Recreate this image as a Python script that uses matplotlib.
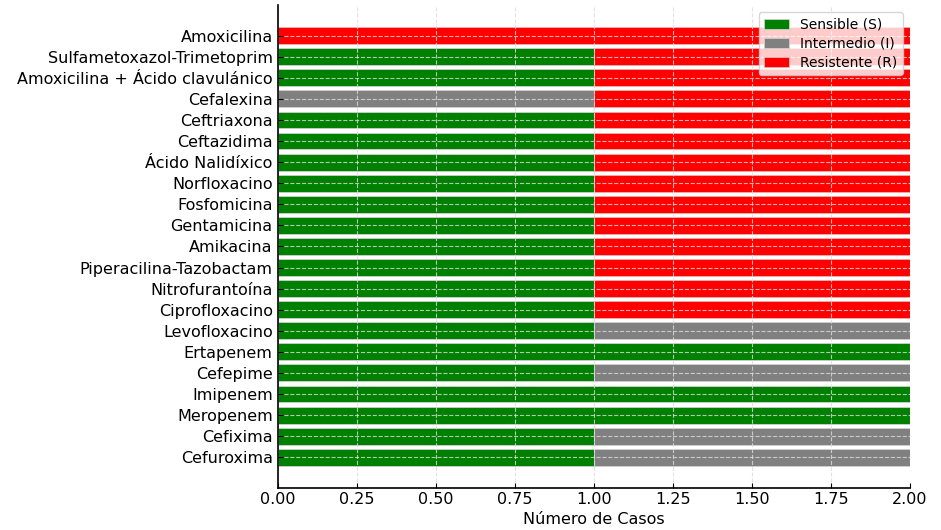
import numpy as np
import matplotlib
matplotlib.use("Agg")
import matplotlib.pyplot as plt

plt.rcParams["font.family"] = ["DejaVu Sans"]

antibioticos = [
    "Amoxicilina",
    "Sulfametoxazol-Trimetoprim",
    "Amoxicilina + Ácido clavulánico",
    "Cefalexina",
    "Ceftriaxona",
    "Ceftazidima",
    "Ácido Nalidíxico",
    "Norfloxacino",
    "Fosfomicina",
    "Gentamicina",
    "Amikacina",
    "Piperacilina-Tazobactam",
    "Nitrofurantoína",
    "Ciprofloxacino",
    "Levofloxacino",
    "Ertapenem",
    "Cefepime",
    "Imipenem",
    "Meropenem",
    "Cefixima",
    "Cefuroxima",
]
sensible   = [0, 1, 1, 0, 1, 1, 1, 1, 1, 1, 1, 1, 1, 1, 1, 2, 1, 2, 2, 1, 1]
intermedio = [0, 0, 0, 1, 0, 0, 0, 0, 0, 0, 0, 0, 0, 0, 1, 0, 1, 0, 0, 1, 1]
resistente = [2, 1, 1, 1, 1, 1, 1, 1, 1, 1, 1, 1, 1, 1, 0, 0, 0, 0, 0, 0, 0]

s = np.array(sensible)
i = np.array(intermedio)
r = np.array(resistente)

fig, ax = plt.subplots(figsize=(9.41, 5.30), dpi=100)
fig.subplots_adjust(left=0.295, right=0.967, top=0.99, bottom=0.08)

ax.barh(antibioticos, s, color="green", edgecolor="#d0d0d0", linewidth=0.6, label="Sensible (S)")
ax.barh(antibioticos, i, left=s, color="gray", edgecolor="#d0d0d0", linewidth=0.6, label="Intermedio (I)")
ax.barh(antibioticos, r, left=s + i, color="red", edgecolor="#f0b0b0", linewidth=0.6, label="Resistente (R)")

ax.invert_yaxis()
ax.set_xlim(0, 2)
ax.set_xticks(np.arange(0, 2.01, 0.25))
ax.set_xlabel("Número de Casos", fontsize=11.5, labelpad=3)
ax.tick_params(axis="both", direction="in", labelsize=11.5)

ax.set_axisbelow(False)
ax.grid(True, linestyle="--", color="#dddddd", alpha=0.8, linewidth=0.8)

for side in ["top", "right"]:
    ax.spines[side].set_visible(False)
for side in ["left", "bottom"]:
    ax.spines[side].set_zorder(5)
    ax.spines[side].set_linewidth(1.2)

ax.legend(loc="upper right", fontsize=10, framealpha=0.8, handlelength=1.8,
          borderaxespad=0.5, labelspacing=0.35)

plt.savefig("out.png")
